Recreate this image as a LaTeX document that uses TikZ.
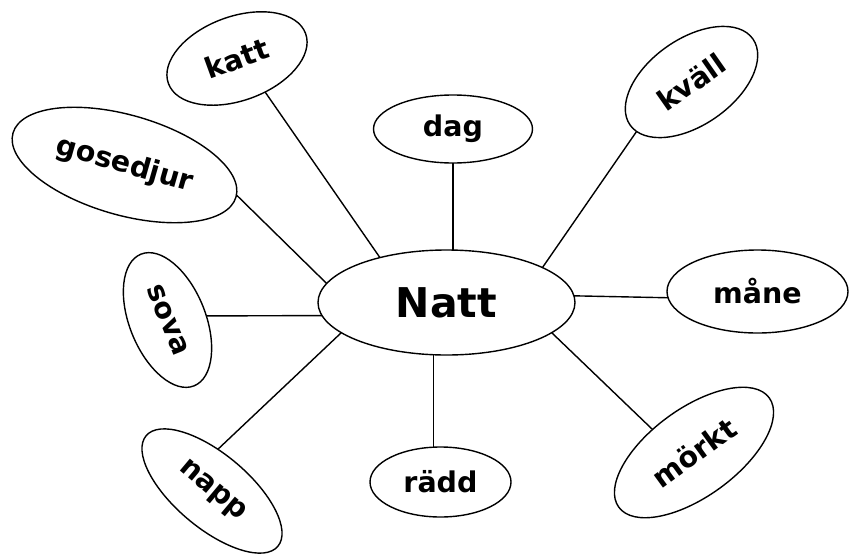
\documentclass[tikz,border=0pt]{standalone}
\usepackage{fontspec}
\setmainfont{DejaVu Sans}
\usetikzlibrary{shapes.geometric}
\begin{document}
\begin{tikzpicture}[x=1pt,y=1pt,
  bubble/.style={ellipse,draw,line width=1.4pt,inner sep=0pt,outer sep=0pt,
    font=\bfseries\fontsize{28.5}{34}\selectfont},
  link/.style={line width=1.4pt}]
\fill[white] (0,0) rectangle (849,-555);
\useasboundingbox (0,0) rectangle (849,-555);
\node[bubble,minimum width=257pt,minimum height=105pt,
  font=\bfseries\fontsize{41}{49}\selectfont] (natt) at (446.5,-302.5) {Natt};
\node[bubble,rotate=20,minimum width=146pt,minimum height=84pt] (katt) at (237,-58.5) {katt};
\node[bubble,rotate=-16,minimum width=232pt,minimum height=100pt] (gosedjur) at (124.5,-165) {gosedjur};
\node[bubble,minimum width=159pt,minimum height=68pt] (dag) at (453,-129) {dag};
\node[bubble,rotate=35,minimum width=150pt,minimum height=86pt] (kvall) at (691.5,-82) {kväll};
\node[bubble,rotate=-68,minimum width=142pt,minimum height=76pt] (sova) at (167.5,-320) {sova};
\node[bubble,rotate=-40,minimum width=172pt,minimum height=74pt] (napp) at (212,-491) {napp};
\node[bubble,minimum width=141pt,minimum height=70pt] (raedd) at (440.5,-482) {rädd};
\node[bubble,minimum width=181pt,minimum height=83pt] (mane) at (757.5,-291.5) {måne};
\node[bubble,rotate=36,minimum width=186pt,minimum height=88pt] (morkt) at (694,-452.5) {mörkt};
\draw[link] (katt.-70) -- (natt.146);
\draw[link] (gosedjur.1) -- (natt.171);
\draw[link] (dag.south) -- (dag.south |- natt.north);
\draw[link] (kvall.187) -- (natt.20);
\draw[link] (sova.74) -- (natt.186);
\draw[link] (mane.184) -- (natt.3);
\draw[link] (napp.122) -- (natt.196);
\draw[link] (raedd.101) -- (raedd.101 |- natt.south);
\draw[link] (morkt.115) -- (natt.-16);
\end{tikzpicture}
\end{document}
